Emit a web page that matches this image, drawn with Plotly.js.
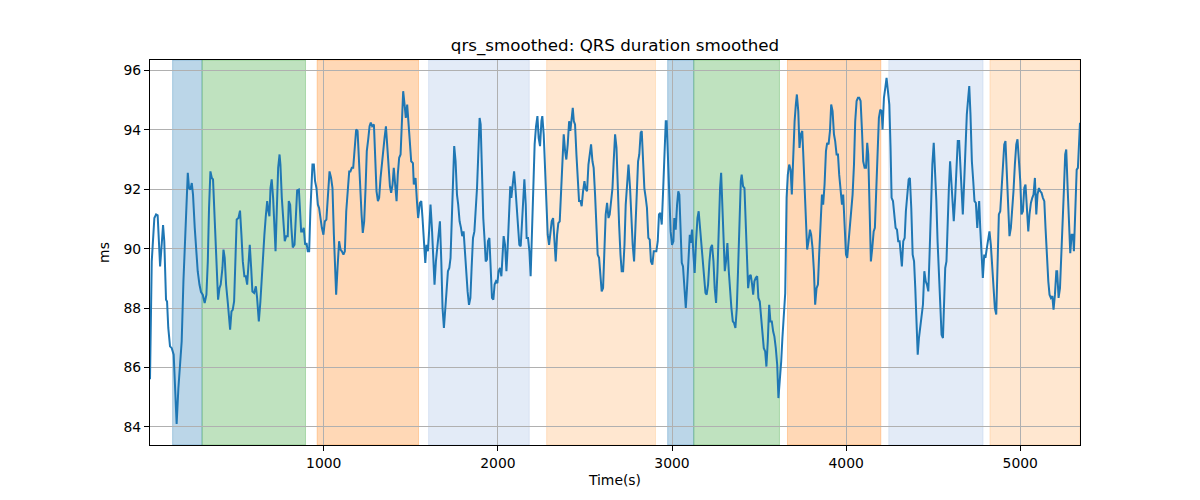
<!DOCTYPE html>
<html>
<head>
<meta charset="utf-8">
<script src="https://cdn.plot.ly/plotly-3.0.1.min.js"></script>
<style>
  html, body { margin: 0; padding: 0; background: #fff; }
  #chart { width: 1200px; height: 500px; }
</style>
</head>
<body>
<div id="chart"></div>
<script>
// ─── Data ───

const timeSec = [
  2, 12, 27, 37, 46, 52, 60, 69, 77, 84, 94, 100, 107, 117, 127, 138, 146, 155, 165, 176,
  184, 194, 203, 211, 219, 226, 234, 242, 249, 259, 266, 276, 286, 295, 305, 316, 326, 334, 341, 349,
  357, 364, 374, 383, 393, 401, 408, 418, 424, 431, 439, 449, 456, 462, 470, 477, 485, 493, 500, 510,
  519, 527, 535, 544, 552, 560, 567, 575, 583, 590, 600, 610, 617, 627, 636, 644, 652, 659, 667, 675,
  682, 688, 694, 701, 709, 717, 723, 730, 738, 746, 751, 759, 767, 776, 784, 793, 799, 807, 814, 822,
  832, 839, 847, 857, 864, 870, 878, 885, 893, 901, 908,
  916, 923, 935, 943, 950, 958, 966, 973, 981, 989, 998, 1006, 1015, 1023, 1033, 1042, 1050, 1058, 1065, 1071,
  1079, 1088, 1096, 1104, 1113, 1121, 1129, 1138, 1146, 1153, 1161, 1169, 1176, 1186, 1194, 1201, 1209, 1217, 1224, 1232,
  1240, 1247, 1255, 1263, 1270, 1278, 1288, 1295, 1303, 1311, 1318, 1326, 1334, 1341, 1349, 1357, 1364, 1372, 1380, 1387,
  1395, 1402, 1410, 1418, 1425, 1433, 1441, 1448, 1456, 1464, 1471, 1479, 1487, 1494, 1502, 1512, 1517, 1527, 1535, 1542,
  1552, 1560, 1567, 1575, 1583, 1590, 1598, 1606, 1613, 1621, 1629, 1636, 1644, 1653, 1659, 1667, 1675, 1682, 1690, 1698,
  1705, 1713, 1721, 1728, 1736, 1744, 1749, 1757, 1765, 1772, 1780, 1788, 1795, 1803, 1811, 1818, 1826, 1834,
  1842, 1849, 1857, 1865, 1872, 1880, 1888, 1895, 1901, 1909, 1916, 1924, 1930, 1937, 1943, 1951, 1958, 1966, 1974, 1981,
  1989, 1997, 2004, 2012, 2020, 2026, 2033, 2041, 2049, 2056, 2064, 2071, 2077, 2085, 2093, 2100, 2108, 2116, 2123, 2131,
  2139, 2146, 2152, 2160, 2165, 2173, 2181, 2188, 2196, 2204, 2211, 2219, 2227, 2234, 2242, 2250, 2255, 2263, 2271, 2278,
  2286, 2294, 2301, 2309, 2317, 2324, 2332, 2340, 2347, 2355, 2363, 2370, 2378, 2386, 2393, 2401, 2409, 2416, 2424, 2430,
  2436, 2443, 2451, 2458, 2466, 2474, 2481, 2489, 2497, 2504, 2512, 2520, 2527, 2535, 2543, 2550, 2558, 2566, 2573, 2581,
  2589, 2596, 2604, 2612, 2619, 2627, 2635, 2642, 2650, 2658, 2665, 2673, 2681, 2688, 2696, 2704, 2711, 2719, 2727, 2734,
  2742, 2750,
  2759, 2766, 2774, 2782, 2789, 2797, 2805, 2812, 2820, 2826, 2833, 2841, 2849, 2856, 2864, 2872, 2879, 2887, 2895, 2902,
  2910, 2918, 2925, 2933, 2941, 2948, 2956, 2964, 2969, 2977, 2985, 2992, 3000, 3008, 3013, 3021, 3029, 3036, 3042, 3050,
  3056, 3063, 3071, 3079, 3086, 3094, 3102, 3107, 3115, 3123, 3130, 3138, 3146, 3153, 3161, 3169, 3176, 3184, 3192, 3199,
  3207, 3215, 3222, 3230, 3238, 3245, 3253, 3261, 3268, 3276, 3282, 3287, 3295, 3303, 3310, 3318, 3326, 3333, 3341, 3349,
  3356, 3364, 3372, 3379, 3387, 3395, 3400, 3408, 3416, 3423, 3431, 3437, 3445, 3452, 3460, 3466, 3473, 3481, 3489, 3496,
  3504, 3512, 3519, 3527, 3535, 3542, 3550, 3558, 3565, 3573, 3581, 3588, 3596, 3604, 3611, 3619, 3627, 3634, 3642, 3650,
  3658, 3665, 3673, 3681, 3688, 3696, 3704, 3711, 3717, 3725, 3732, 3740, 3748, 3753, 3761, 3769, 3776, 3784, 3792, 3799,
  3807, 3815, 3822, 3830, 3838, 3845, 3853, 3861, 3868, 3876, 3884, 3891, 3899, 3907, 3914, 3922, 3930, 3937, 3945, 3953,
  3960, 3968, 3976, 3983, 3991, 3999, 4006, 4014, 4022, 4029, 4037, 4045, 4052, 4060, 4068, 4075, 4083, 4091, 4098, 4106,
  4114, 4121, 4127, 4135, 4142, 4150, 4158, 4165, 4173, 4181, 4188, 4196, 4204, 4209, 4217, 4225, 4232, 4240, 4248, 4255,
  4261, 4269, 4276, 4284, 4292, 4299, 4307, 4315, 4320, 4328, 4336, 4343, 4351, 4359, 4366, 4374, 4382, 4390, 4397, 4403,
  4411, 4418, 4426, 4434, 4441, 4449, 4457, 4464, 4472, 4479, 4487, 4495, 4503, 4510, 4518, 4525, 4533, 4541, 4548, 4556,
  4561, 4569, 4576, 4582, 4590, 4597, 4603, 4611, 4618, 4626, 4634, 4641, 4649, 4657, 4664, 4670, 4678, 4686, 4693, 4701,
  4707, 4714, 4722, 4730, 4737, 4745, 4753, 4758, 4764, 4770, 4777, 4785, 4793, 4800, 4808, 4816, 4823, 4831, 4839, 4846,
  4854, 4862, 4869, 4877, 4885, 4892, 4900, 4908, 4915, 4923, 4931, 4938, 4946, 4954, 4961, 4969, 4977, 4984, 4992, 5000,
  5007, 5015, 5023, 5030, 5038, 5046, 5053, 5061, 5069, 5076, 5084, 5092, 5099, 5107, 5115, 5122, 5130, 5138, 5145, 5153,
  5161, 5168, 5176, 5184, 5191, 5199, 5207, 5212, 5220, 5228, 5235, 5243, 5251, 5258, 5264, 5272, 5280, 5287, 5295, 5303,
  5308, 5316, 5324, 5331, 5339, 5343,
];

const qrsMs = [
  85.6, 89.57, 91.03, 91.15, 91.12, 90.25, 89.4, 90.13, 90.79, 90.25, 88.28, 88.22, 87.33, 86.71, 86.65, 86.43, 85.3, 84.1, 85.3, 86.2,
  86.88, 88.9, 90.25, 91.82, 92.55, 92.04, 91.99, 92.21, 91.82, 90.7, 89.91, 89.24, 88.79, 88.54, 88.45, 88.17, 88.45, 89.57, 91.37, 92.6,
  92.38, 92.33, 90.92, 89.57, 88.28, 88.67, 88.79, 89.35, 89.97, 89.69, 88.79, 88.17, 87.78, 87.27, 87.89, 87.94, 88.22, 89.57, 90.98, 91.03,
  91.28, 90.47, 89.57, 89.07, 89.07, 88.79, 89.57, 90.13, 89.35, 88.56, 88.51, 88.73, 88.34, 87.55, 88.22, 89.12, 89.91, 90.47, 91.09, 91.6,
  91.26, 91.09, 92.04, 92.33, 91.71, 90.47, 89.91, 91.26, 92.72, 93.17, 92.83, 91.71, 90.81, 90.25, 90.42, 90.42, 91.6, 91.48, 90.7, 90.04,
  90.13, 90.92, 91.96, 91.99, 91.37, 90.58, 90.58, 90.7, 90.13, 90.19, 89.91,
  89.91, 91.26, 92.83, 92.83, 92.27, 92.04, 91.48, 91.37, 90.92, 90.7, 90.47, 90.92, 90.98, 91.6, 92.6, 92.38, 92.04, 90.47, 89.24, 88.45,
  89.35, 90.25, 89.97, 89.91, 89.8, 89.91, 91.26, 92.04, 92.6, 92.6, 92.72, 92.72, 93.39, 94.01, 93.96, 92.94, 92.04, 91.15, 90.53, 90.92,
  92.04, 93.28, 93.67, 94.12, 94.24, 94.12, 94.18, 93.17, 91.93, 91.6, 91.71, 92.38, 92.94, 93.17, 93.73, 94.12, 93.39, 92.6, 92.1, 91.88,
  92.16, 92.72, 92.27, 91.6, 92.49, 93.06, 93.17, 93.96, 95.3, 94.85, 94.4, 94.85, 94.29, 93.62, 92.94, 92.88, 92.16, 92.38, 91.6, 91.03,
  91.54, 91.6, 91.03, 90.13, 89.52, 90.13, 89.91, 90.7, 91.48, 90.7, 89.46, 88.79, 89.57, 90.13, 90.58, 90.92, 89.57, 88.0, 87.33, 87.89,
  88.56, 89.24, 89.35, 89.69, 91.37, 92.94, 93.45, 92.94, 91.82, 91.48, 90.92, 90.7, 90.42, 90.58, 89.8, 89.12, 88.56, 88.11,
  88.34, 89.35, 90.36, 90.58, 91.15, 92.04, 93.28, 94.4, 94.18, 92.04, 91.03, 90.25, 89.57, 89.63, 90.25, 90.36, 89.57, 88.34, 88.28, 88.79,
  88.9, 88.84, 89.24, 89.35, 89.07, 89.78, 90.42, 90.13, 89.24, 90.02, 91.15, 92.1, 91.71, 92.1, 92.6, 92.1, 91.37, 90.47, 90.13, 90.08,
  91.15, 92.04, 92.33, 91.48, 90.36, 90.36, 89.91, 89.07, 90.7, 92.6, 93.51, 94.12, 94.46, 93.73, 93.45, 94.29, 94.46, 93.85, 92.83, 91.48,
  90.47, 90.13, 90.58, 90.92, 91.03, 90.25, 89.57, 90.47, 90.86, 90.92, 92.04, 93.28, 93.85, 93.28, 93.0, 93.51, 94.29, 93.96, 94.46, 94.74,
  94.29, 94.18, 93.17, 92.27, 91.6, 91.6, 91.43, 91.93, 92.27, 92.0, 91.93, 92.83, 93.17, 93.51, 92.94, 92.72, 91.82, 90.92, 89.8, 89.69,
  89.12, 88.56, 88.67, 90.25, 91.15, 91.54, 91.03, 91.15, 91.6, 92.04, 92.94, 93.85, 93.4, 92.04, 90.81, 89.8, 89.24, 89.24, 90.13, 91.48,
  92.38, 92.83,
  92.04, 90.92, 90.13, 89.57, 90.7, 92.04, 92.94, 93.17, 93.9, 93.96, 93.17, 92.04, 91.71, 91.37, 90.36, 90.3, 89.57, 89.46, 89.91, 89.91,
  89.91, 90.25, 91.15, 91.2, 90.81, 91.82, 93.17, 94.29, 94.29, 92.83, 91.48, 90.58, 90.13, 90.25, 91.03, 90.64, 91.48, 91.93, 91.82, 90.7,
  89.52, 89.4, 88.67, 88.0, 88.67, 89.8, 90.47, 90.19, 90.64, 89.8, 89.18, 90.25, 91.03, 91.26, 90.7, 90.13, 89.57, 88.79, 88.51, 88.45,
  88.79, 89.57, 90.02, 90.13, 89.57, 88.67, 88.17, 89.24, 90.92, 92.04, 92.55, 91.82, 90.25, 89.24, 89.57, 90.19, 89.24, 88.45, 88.0, 87.55,
  87.5, 87.33, 88.0, 89.24, 90.92, 92.27, 92.49, 92.1, 92.04, 90.92, 89.57, 88.67, 89.07, 89.12, 88.79, 88.45, 88.9, 89.02, 89.07, 88.34,
  88.22, 87.66, 87.33, 86.65, 86.54, 86.03, 86.88, 88.11, 87.55, 87.55, 87.21, 87.04, 86.65, 86.09, 84.97, 85.47, 86.2, 87.0, 87.6, 88.5,
  91.71, 92.49, 92.83, 92.66, 91.82, 93.17, 94.29, 94.85, 95.19, 94.63, 93.39, 93.85, 93.96, 93.28, 92.27, 91.03, 89.97, 90.25, 90.64, 90.47,
  90.02, 89.24, 88.11, 88.67, 88.79, 89.8, 91.15, 91.82, 91.48, 92.16, 93.28, 93.56, 93.51, 93.96, 94.85, 94.63, 93.85, 93.62, 93.17, 93.17,
  92.49, 91.82, 91.48, 91.82, 90.7, 89.8, 89.69, 90.25, 90.92, 91.15, 91.82, 92.83, 94.29, 94.97, 95.08, 95.08, 94.97, 93.96, 92.94, 92.72,
  92.72, 93.56, 93.17, 91.26, 89.57, 90.02, 90.58, 90.7, 91.82, 93.17, 94.4, 94.68, 94.63, 94.01, 95.08, 95.42, 95.75, 95.3, 94.85, 93.39,
  91.71, 91.6, 91.03, 90.7, 90.64, 90.25, 90.25, 89.69, 89.4, 90.25, 90.36, 91.26, 91.93, 92.33, 92.38, 91.37, 89.8, 89.57, 88.67, 87.33,
  86.43, 86.99, 87.44, 87.89, 88.11, 89.24, 88.9, 88.79, 88.56, 89.8, 91.48, 92.83, 93.56, 92.83, 91.6, 90.25, 89.01, 88.0, 87.1, 86.99,
  88.22, 89.35, 89.57, 90.92, 92.04, 92.94, 92.38, 91.37, 90.92, 91.71, 93.06, 93.62, 93.62, 92.6, 91.37, 91.15, 92.27, 93.73, 94.52, 95.08,
  95.47, 94.52, 92.94, 92.27, 91.6, 91.54, 90.7, 91.15, 91.6, 90.7, 90.02, 89.01, 89.8, 89.69, 90.02, 90.36, 90.58, 90.13, 89.24, 88.67,
  88.0, 87.78, 89.24, 91.15, 91.26, 92.04, 92.94, 93.51, 93.62, 92.6, 91.15, 90.42, 90.7, 91.26, 91.93, 92.83, 93.51, 93.68, 93.06, 92.27,
  91.15, 91.26, 92.04, 92.16, 91.37, 90.58, 91.15, 91.54, 91.71, 91.82, 92.38, 91.15, 91.82, 92.04, 91.93, 91.88, 91.71, 91.6, 90.7, 89.57,
  88.9, 88.45, 88.34, 88.4, 87.95, 88.45, 89.24, 89.24, 88.34, 88.67, 89.57, 90.92, 92.04, 93.17, 93.34, 92.04, 90.92, 89.85, 90.47, 90.47,
  89.91, 91.37, 92.66, 92.72, 94.18, 94.24,
];

// shaded phases (seconds)
const spanStart = [132, 301, 962, 1602, 2280, 2975, 3125, 3663, 4245, 4826];
const spanEnd = [301, 895, 1544, 2180, 2905, 3125, 3617, 4199, 4786, 5343];

const yTicks = [84, 86, 88, 90, 92, 94, 96];
const xTicks = [1000, 2000, 3000, 4000, 5000];

// ─── Styles ───

const spanPalette = [
  "rgba(31,119,180,0.3)",
  "rgba(44,160,44,0.3)",
  "rgba(255,127,14,0.3)",
  "rgba(174,199,232,0.35)",
  "rgba(255,187,120,0.35)",
];

const font = "DejaVu Sans, sans-serif";

const shapes = spanStart.map((s, i) => ({
  type: "rect",
  xref: "x",
  yref: "paper",
  x0: s,
  x1: spanEnd[i],
  y0: 0,
  y1: 1,
  fillcolor: spanPalette[i % spanPalette.length],
  line: { color: spanPalette[i % spanPalette.length], width: 1 },
  layer: "below",
}));

const axisBase = {
  showline: true,
  mirror: true,
  linecolor: "#000",
  linewidth: 1,
  ticks: "outside",
  ticklen: 5,
  tickwidth: 1,
  tickcolor: "#000",
  showgrid: true,
  gridcolor: "#b0b0b0",
  gridwidth: 1,
  zeroline: false,
  tickfont: { family: font, size: 13.9, color: "#000" },
};

const trace = {
  x: timeSec,
  y: qrsMs,
  type: "scatter",
  mode: "lines",
  line: { color: "#1f77b4", width: 2 },
  hoverinfo: "x+y",
};

const layout = {
  width: 1200,
  height: 500,
  paper_bgcolor: "#fff",
  plot_bgcolor: "#fff",
  font: { family: font, size: 13.9, color: "#000" },
  margin: { l: 150, r: 120, t: 60, b: 55 },
  showlegend: false,
  title: {
    text: "qrs_smoothed: QRS duration smoothed",
    font: { family: font, size: 16.7, color: "#000" },
    xref: "paper",
    x: 0.5,
    xanchor: "center",
    y: 0.91,
    yanchor: "middle",
  },
  xaxis: Object.assign({}, axisBase, {
    range: [2, 5343],
    tickvals: xTicks,
    title: { text: "Time(s)", font: { family: font, size: 13.9 }, standoff: 5 },
  }),
  yaxis: Object.assign({}, axisBase, {
    range: [83.39, 96.35],
    tickvals: yTicks,
    title: { text: "ms", font: { family: font, size: 13.9 }, standoff: 10 },
  }),
  shapes,
};

Plotly.newPlot("chart", [trace], layout, { displayModeBar: false, responsive: false });
</script>
</body>
</html>
